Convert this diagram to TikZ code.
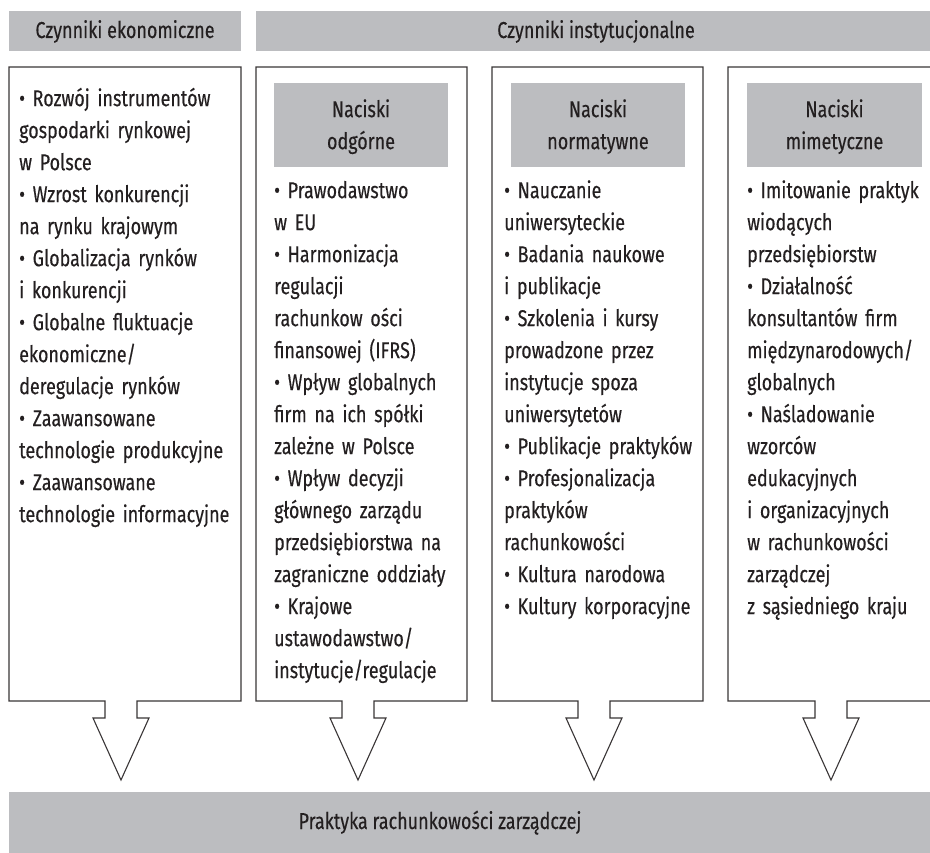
\documentclass[tikz,border=0pt]{standalone}
\usepackage{fontspec}
\setmainfont[FakeStretch=0.78,FakeBold=0.35]{Fira Sans}
\usetikzlibrary{positioning}
\definecolor{barfill}{RGB}{188,189,192}
\definecolor{ink}{RGB}{35,31,32}
\tikzset{
  bar/.style={fill=barfill,draw=none},
  txt/.style={text=ink,font=\fontsize{23}{32}\selectfont,inner sep=0pt},
  list/.style={txt,anchor=north west,align=left,text width=260pt,execute at begin node=\strut},
  nacisk/.style={txt,anchor=north,align=center,text width=174pt,execute at begin node=\strut},
  frame/.style={draw=ink!90,line width=1.1pt,line join=miter},
}
% column outline with its arrow: left, right, arrow centre
\newcommand*{\colframe}[3]{%
  \draw[frame] (#3-16,701) -- (#1,701) -- (#1,67) -- (#2,67) -- (#2,701)
    -- (#3+16,701) -- (#3+16,718) -- (#3+28,718) -- (#3,780)
    -- (#3-28,718) -- (#3-16,718) -- cycle;}

\begin{document}
\begin{tikzpicture}[x=1pt,y=-1pt]
\useasboundingbox (0,0) rectangle (930,853);
% headers
\fill[bar] (9,11) rectangle (241,51);
\fill[bar] (256,11) rectangle (945,51);
\node[txt,anchor=base] (eko) at (125,38) {Czynniki ekonomiczne};
\node[txt,anchor=base] (inst) at (596,38) {Czynniki instytucjonalne};
% columns
\colframe{9}{241}{121}
\colframe{256}{467}{358}
\colframe{492}{703}{594}
\colframe{728}{939}{831}
% pressure headers
\fill[bar] (274,83) rectangle (448,167);
\fill[bar] (511,83) rectangle (685,167);
\fill[bar] (747,83) rectangle (922,167);
\node[nacisk] (odg) at (361,94.6) {Naciski\\odgórne};
\node[nacisk] (norm) at (598,94.6) {Naciski\\normatywne};
\node[nacisk] (mim) at (834.5,94.6) {Naciski\\mimetyczne};
% lists
\node[list] (lEko) at (19,83.6) {• Rozwój instrumentów\\gospodarki rynkowej\\w Polsce\\
  • Wzrost konkurencji\\na rynku krajowym\\• Globalizacja rynków\\i konkurencji\\
  • Globalne fluktuacje\\ekonomiczne/\\deregulacje rynków\\• Zaawansowane\\
  technologie produkcyjne\\• Zaawansowane\\technologie informacyjne};
\node[list] (lOdg) at (274,175.6) {• Prawodawstwo\\w EU\\• Harmonizacja\\regulacji\\
  rachunkow ości\\finansowej (IFRS)\\• Wpływ globalnych\\firm na ich spółki\\
  zależne w Polsce\\• Wpływ decyzji\\głównego zarządu\\przedsiębiorstwa na\\
  zagraniczne oddziały\\• Krajowe\\ustawodawstwo/\\instytucje/regulacje};
\node[list] (lNorm) at (504,175.6) {• Nauczanie\\uniwersyteckie\\• Badania naukowe\\
  i publikacje\\• Szkolenia i kursy\\prowadzone przez\\instytucje spoza\\
  uniwersytetów\\• Publikacje praktyków\\• Profesjonalizacja\\praktyków\\
  rachunkowości\\• Kultura narodowa\\• Kultury korporacyjne};
\node[list] (lMim) at (747,175.6) {• Imitowanie praktyk\\wiodących\\przedsiębiorstw\\
  • Działalność\\konsultantów firm\\międzynarodowych/\\globalnych\\
  • Naśladowanie\\wzorców\\edukacyjnych\\i organizacyjnych\\w rachunkowości\\
  zarządczej\\z sąsiedniego kraju};
% result
\fill[bar] (9,792) rectangle (945,853);
\node[txt,anchor=base] (prak) at (440,829) {Praktyka rachunkowości zarządczej};
\end{tikzpicture}
\end{document}
